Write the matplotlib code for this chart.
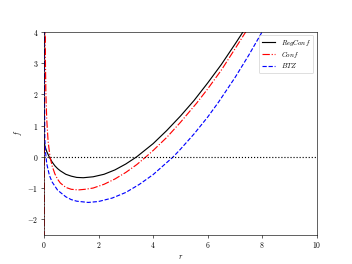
import numpy as np
import matplotlib
matplotlib.use('Agg')
import matplotlib.pyplot as plt
from matplotlib.ticker import FuncFormatter

plt.rcParams['mathtext.fontset'] = 'cm'
plt.rcParams['font.family'] = 'serif'

# values
r_reg = [0.0, 0.05, 0.1, 0.2, 0.3, 0.4, 0.5, 0.6, 0.8, 1.0, 1.2, 1.44, 1.8, 2.2,
         2.6, 3.0, 3.4, 4.0, 4.5, 5.0, 5.5, 6.0, 6.5, 7.0, 7.3, 7.5]
f_reg = [0.45, 0.3, 0.17, -0.02, -0.17, -0.29, -0.38, -0.45, -0.56, -0.62, -0.66, -0.67,
         -0.64, -0.56, -0.42, -0.23, 0.0, 0.42, 0.84, 1.3, 1.8, 2.36, 2.95, 3.6, 4.0, 4.3]

r_conf = [0.005, 0.03, 0.045, 0.07, 0.1, 0.15, 0.22, 0.3, 0.4, 0.5, 0.6, 0.8, 1.0, 1.26,
          1.5, 1.8, 2.2, 2.6, 3.0, 3.4, 3.74, 4.0, 4.5, 5.0, 5.6, 6.0, 6.5, 7.0, 7.4, 7.6]
f_conf = [-3.0, 6.0, 3.5, 2.0, 1.2, 0.5, 0.0, -0.3, -0.55, -0.72, -0.84, -0.98, -1.04, -1.06,
          -1.04, -1.0, -0.88, -0.71, -0.5, -0.25, 0.0, 0.2, 0.62, 1.1, 1.72, 2.17, 2.77, 3.45, 4.0, 4.3]

r_btz = [0.002, 0.01, 0.03, 0.05, 0.1, 0.16, 0.2, 0.3, 0.5, 0.8, 1.0, 1.2, 1.62, 2.0, 2.5,
         3.0, 3.5, 4.0, 4.74, 5.0, 5.5, 6.0, 6.4, 7.0, 7.5, 8.0, 8.2]
f_btz = [5.0, 2.5, 0.6, 0.2, -0.22, -0.45, -0.6, -0.81, -1.07, -1.28, -1.37, -1.42, -1.46,
         -1.43, -1.32, -1.14, -0.88, -0.57, 0.0, 0.24, 0.73, 1.27, 1.75, 2.53, 3.24, 4.0, 4.33]

fig, ax = plt.subplots(figsize=(6.4, 4.8), dpi=55)

ax.plot(r_reg, f_reg, 'k-', lw=1.5, label=r'$RegConf$')
ax.plot(r_conf, f_conf, 'r-.', lw=1.5, label=r'$Conf$')
ax.plot(r_btz, f_btz, 'b--', lw=1.5, label=r'$BTZ$')
ax.axhline(0, color='k', ls=':', lw=1.5)

ax.set_xlim(0, 10)
ax.set_ylim(-2.5, 4)
ax.set_xticks([0, 2, 4, 6, 8, 10])
ax.set_yticks([-2, -1, 0, 1, 2, 3, 4])
fmt = FuncFormatter(lambda v, p: r'$%g$' % v)
ax.xaxis.set_major_formatter(fmt)
ax.yaxis.set_major_formatter(fmt)
ax.set_xlabel(r'$r$')
ax.set_ylabel(r'$f$')
ax.legend(loc='upper right', fontsize=9, labelspacing=0.25)

fig.savefig('out.png', dpi=55)
